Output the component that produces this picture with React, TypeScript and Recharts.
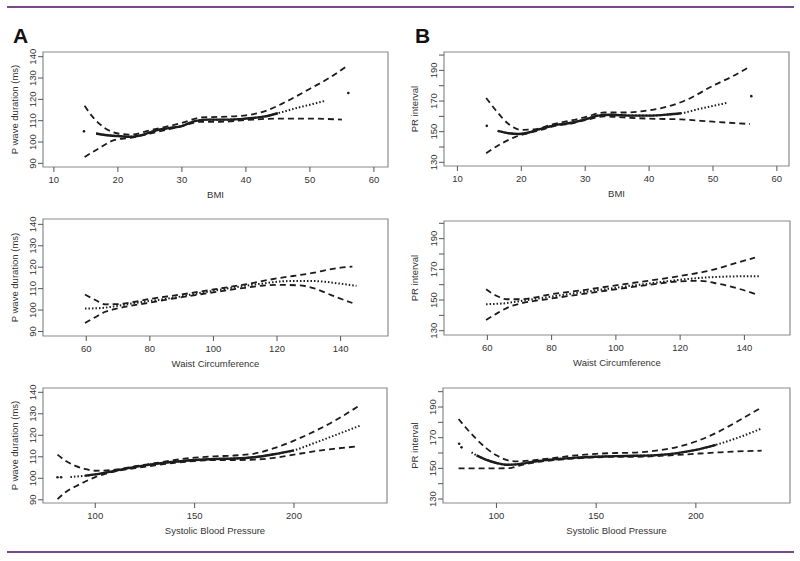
import React from "react";
import { LineChart, Line, XAxis, YAxis, ReferenceArea } from "recharts";

const FONT = "'Liberation Sans', Arial, Helvetica, sans-serif";
const INK = "#1c1c1c";
const PURPLE = "#7a4a8c";

type Pt = [number, number];

// ---- tick values
const bmiTicks = [10, 20, 30, 40, 50, 60];
const waistTicks = [60, 80, 100, 120, 140];
const sbpTicks = [100, 150, 200];
const pwaveTicks = [90, 100, 110, 120, 130, 140];
const prTicks = [130, 140, 150, 160, 170, 180, 190, 200];
const prLabels = [130, 150, 170, 190];

// ---- A: P wave duration vs BMI
const a1Upper: Pt[] = [[14.8, 117], [16, 112], [18, 106.5], [20, 104], [22, 103.5], [25, 105.5], [28, 107.5], [30, 109], [33, 111.5], [36, 111.8], [40, 112.5], [43, 114.5], [46, 118.5], [50, 125], [53, 130], [55.7, 135.5]];
const a1Lower: Pt[] = [[14.8, 93], [17, 97], [19.5, 101], [22, 102], [25, 104], [28, 106], [30, 107.5], [33, 109.5], [36, 109.5], [40, 110.3], [45, 111], [50, 111], [55, 110.5]];
const a1Fit: Pt[] = [[16.6, 104], [18, 103.3], [20, 102.8], [22, 102.5], [24, 103.5], [26, 105.5], [28, 106.5], [30, 107.5], [32, 109.8], [34, 110.5], [37, 110.5], [40, 111], [43, 112], [45, 113.5], [48, 116], [50, 117.5], [52.5, 119.4]];
const a1Dots: Pt[] = [[14.7, 105], [56, 123]];

// ---- B: PR interval vs BMI
const b1Upper: Pt[] = [[14.5, 172], [16, 164], [18, 155], [20, 151.2], [22, 151.5], [25, 155], [28, 157.5], [30, 159.5], [33, 162.5], [36, 162.5], [40, 164], [43, 166.5], [46, 171], [50, 180], [53, 186], [55.8, 192.5]];
const b1Lower: Pt[] = [[14.5, 136], [17, 142.5], [19, 146.5], [21, 149], [23, 151], [25, 153.5], [28, 155.5], [30, 157.5], [33, 160], [36, 159.3], [40, 158.5], [45, 158], [50, 156.5], [55.8, 155]];
const b1Fit: Pt[] = [[16.3, 150.5], [18, 149], [19.5, 148.5], [21, 149.3], [23, 151.8], [25, 154], [28, 156], [30, 158], [32, 160.5], [34, 161], [37, 160.5], [40, 160.5], [43, 161.2], [45, 162], [48, 165], [50, 166.8], [52.4, 169]];
const b1Dots: Pt[] = [[14.6, 153.8], [56, 173.2]];

// ---- A: P wave duration vs waist
const a2Upper: Pt[] = [[59.6, 107.3], [63, 104.6], [66, 102.7], [70, 102.8], [80, 105.2], [90, 107.3], [100, 109.6], [110, 112], [120, 114.8], [130, 117], [140, 119.8], [143.7, 120.3]];
const a2Lower: Pt[] = [[59.6, 94], [63, 96.8], [66, 99.2], [70, 100.8], [80, 103.5], [90, 106], [100, 108.3], [110, 110.4], [120, 111.8], [127, 111.5], [132, 110], [137, 107], [143.7, 103.3]];
const a2Fit: Pt[] = [[59.6, 100.7], [65, 101], [70, 102], [75, 103.2], [80, 104.3], [85, 105.2], [90, 106.4], [95, 107.8], [100, 109], [105, 110.2], [110, 111.3], [115, 112.3], [120, 113.2], [125, 113.6], [130, 113.6], [135, 113.2], [140, 112.3], [145, 111.3]];

// ---- B: PR interval vs waist
const b2Upper: Pt[] = [[59.6, 157], [63, 152.6], [66, 150.5], [70, 150.5], [80, 153.8], [90, 156.5], [100, 159.6], [110, 162.5], [120, 165.7], [130, 169.6], [138, 174.5], [143.3, 177.6]];
const b2Lower: Pt[] = [[59.6, 137], [63, 141.3], [67, 145.7], [70, 147.5], [80, 151], [90, 154], [100, 157], [110, 159.8], [120, 162.2], [126, 162.5], [132, 160.5], [138, 157.5], [143.3, 154]];
const b2Fit: Pt[] = [[59.6, 147.3], [65, 147.8], [70, 149.2], [75, 150.8], [80, 152.3], [85, 153.8], [90, 155.2], [95, 156.6], [100, 158], [105, 159.4], [110, 160.7], [115, 162], [120, 163.2], [125, 164.2], [130, 164.9], [135, 165.3], [140, 165.5], [144.5, 165.5]];

// ---- A: P wave duration vs SBP
const a3Upper: Pt[] = [[81, 111], [85, 108.2], [90, 105.8], [95, 104.3], [100, 103.5], [110, 104], [120, 105.6], [130, 107], [140, 108.5], [150, 109.6], [160, 110.2], [170, 110.6], [180, 111.5], [190, 114], [200, 117.5], [210, 121.7], [220, 126.5], [232, 133.3]];
const a3Lower: Pt[] = [[81, 90.3], [85, 93.5], [90, 96.2], [95, 98.5], [100, 100.5], [105, 102], [110, 103.2], [120, 104.7], [130, 106], [140, 107.2], [150, 108], [160, 108.5], [170, 108.5], [180, 108.7], [190, 109.5], [200, 111], [210, 112.5], [220, 113.7], [232, 114.8]];
const a3Fit: Pt[] = [[87.5, 100.6], [95, 101.2], [100, 101.8], [110, 103.5], [120, 105.3], [130, 106.7], [140, 107.7], [150, 108.5], [160, 109], [170, 109.2], [180, 109.8], [190, 111.2], [200, 113], [210, 116.3], [220, 119.8], [233, 124.4]];
const a3Dots: Pt[] = [[81, 100.5], [82.8, 100.5]];

// ---- B: PR interval vs SBP
const b3Upper: Pt[] = [[81, 182.2], [85, 176], [90, 169], [95, 163], [100, 158.5], [105, 155.5], [110, 154.5], [120, 155.5], [130, 157], [140, 158.5], [150, 159.5], [160, 160], [170, 160.3], [180, 161.5], [190, 163.7], [200, 167.5], [210, 173], [220, 180], [233, 189.8]];
const b3Lower: Pt[] = [[81, 150], [90, 150], [100, 150], [107, 150.2], [112, 152], [120, 154], [130, 155.5], [140, 156.5], [150, 157.2], [160, 157.5], [170, 157.5], [180, 158], [190, 158.7], [200, 159.5], [210, 160.3], [220, 161], [233, 161.5]];
const b3Fit: Pt[] = [[87.5, 160.4], [90, 158.5], [95, 155.5], [100, 153.5], [105, 152.3], [110, 152.6], [120, 154.6], [130, 156], [140, 157], [150, 157.6], [160, 158], [170, 158.2], [180, 158.6], [190, 159.8], [200, 162], [210, 165.3], [220, 169.5], [233, 176]];
const b3Dots: Pt[] = [[81.3, 166], [82.5, 163.7]];

const toRows = (pts: Pt[]) => pts.map(([x, y]) => ({ x, y }));

interface PanelProps {
  box: { left: number; top: number; right: number; bottom: number };
  col: number;
  xDomain: [number, number];
  yDomain: [number, number];
  xTicks: number[];
  yTicks: number[];
  yLabels: number[];
  upper: Pt[];
  lower: Pt[];
  fit: Pt[];
  dense?: [number, number];
  dots?: Pt[];
}

function YTick(props: any) {
  const { x, y, payload, labels } = props;
  if (!labels.includes(payload.value)) return null;
  return (
    <text
      x={x}
      y={y}
      transform={`rotate(-90 ${x} ${y})`}
      textAnchor="middle"
      dy="0.35em"
      fontSize={9.5}
      fontFamily={FONT}
      fill="#333"
    >
      {payload.value}
    </text>
  );
}

function Panel({ box, col, xDomain, yDomain, xTicks, yTicks, yLabels, upper, lower, fit, dense, dots }: PanelProps) {
  const top = 10;
  const xAxisH = 30;
  const boxW = box.right - box.left;
  const boxH = box.bottom - box.top;
  const width = 400;
  const height = top + boxH + xAxisH;
  const fitSolid = dense ? fit.filter(([x]) => x >= dense[0] && x <= dense[1]) : [];

  return (
    <div style={{ position: "absolute", left: col, top: box.top - top }}>
      <LineChart
        width={width}
        height={height}
        margin={{ top, right: width - (box.right - col), bottom: 0, left: 0 }}
      >
        <XAxis
          type="number"
          dataKey="x"
          domain={xDomain}
          allowDataOverflow
          ticks={xTicks}
          interval={0}
          height={xAxisH}
          axisLine={false}
          tickSize={5}
          tickMargin={4}
          tickLine={{ stroke: "#555" }}
          tick={{ fontSize: 9.5, fill: "#333", fontFamily: FONT }}
        />
        <YAxis
          type="number"
          domain={yDomain}
          allowDataOverflow
          ticks={yTicks}
          interval={0}
          width={box.left - col}
          axisLine={false}
          tickSize={5}
          tickMargin={5}
          tickLine={{ stroke: "#555" }}
          tick={(p: any) => <YTick {...p} labels={yLabels} />}
        />
        <ReferenceArea
          x1={xDomain[0]}
          x2={xDomain[1]}
          y1={yDomain[0]}
          y2={yDomain[1]}
          fill="none"
          stroke="#8a8a8a"
          strokeWidth={1.2}
        />
        <Line data={toRows(upper)} dataKey="y" type="monotone" stroke={INK} strokeWidth={1.8} strokeDasharray="6 4" dot={false} isAnimationActive={false} />
        <Line data={toRows(lower)} dataKey="y" type="monotone" stroke={INK} strokeWidth={1.8} strokeDasharray="6 4" dot={false} isAnimationActive={false} />
        <Line data={toRows(fit)} dataKey="y" type="monotone" stroke={INK} strokeWidth={2} strokeDasharray="1.5 2" dot={false} isAnimationActive={false} />
        {fitSolid.length > 0 && (
          <Line data={toRows(fitSolid)} dataKey="y" type="monotone" stroke={INK} strokeWidth={2.4} dot={false} isAnimationActive={false} />
        )}
        {dots && (
          <Line data={toRows(dots)} dataKey="y" stroke="none" dot={{ r: 1.3, fill: INK, stroke: "none" }} isAnimationActive={false} />
        )}
      </LineChart>
    </div>
  );
}

const boxes = {
  a1: { left: 43, top: 52, right: 388, bottom: 167 },
  b1: { left: 444, top: 52, right: 789, bottom: 166 },
  a2: { left: 43, top: 219, right: 388, bottom: 336 },
  b2: { left: 444, top: 221, right: 790, bottom: 335 },
  a3: { left: 43, top: 388, right: 387, bottom: 503 },
  b3: { left: 443, top: 388, right: 790, bottom: 503 },
};

const textStyle = { fontFamily: FONT, fontSize: 9.5, fill: "#333" } as const;

function XTitle({ box, text }: { box: { left: number; right: number; bottom: number }; text: string }) {
  return (
    <text x={(box.left + box.right) / 2} y={box.bottom + 28} textAnchor="middle" dy="0.35em" {...textStyle}>
      {text}
    </text>
  );
}

function YTitle({ x, box, text }: { x: number; box: { top: number; bottom: number }; text: string }) {
  const y = (box.top + box.bottom) / 2;
  return (
    <text x={x} y={y} transform={`rotate(-90 ${x} ${y})`} textAnchor="middle" dy="0.35em" {...textStyle}>
      {text}
    </text>
  );
}

export default function App() {
  return (
    <div style={{ position: "absolute", left: 0, top: 0, width: 800, height: 561, background: "#fff", overflow: "hidden" }}>
      <Panel box={boxes.a1} col={0} xDomain={[8.3, 62.2]} yDomain={[88.3, 142.2]} xTicks={bmiTicks} yTicks={pwaveTicks} yLabels={pwaveTicks} upper={a1Upper} lower={a1Lower} fit={a1Fit} dense={[16.6, 46]} dots={a1Dots} />
      <Panel box={boxes.b1} col={400} xDomain={[7.9, 61.9]} yDomain={[127.6, 202]} xTicks={bmiTicks} yTicks={prTicks} yLabels={prLabels} upper={b1Upper} lower={b1Lower} fit={b1Fit} dense={[16.3, 46]} dots={b1Dots} />
      <Panel box={boxes.a2} col={0} xDomain={[46.4, 154.9]} yDomain={[87.9, 142.5]} xTicks={waistTicks} yTicks={pwaveTicks} yLabels={pwaveTicks} upper={a2Upper} lower={a2Lower} fit={a2Fit} />
      <Panel box={boxes.b2} col={400} xDomain={[46.5, 154.2]} yDomain={[127.2, 201.5]} xTicks={waistTicks} yTicks={prTicks} yLabels={prLabels} upper={b2Upper} lower={b2Lower} fit={b2Fit} />
      <Panel box={boxes.a3} col={0} xDomain={[73.7, 246.8]} yDomain={[88.5, 142]} xTicks={sbpTicks} yTicks={pwaveTicks} yLabels={pwaveTicks} upper={a3Upper} lower={a3Lower} fit={a3Fit} dense={[92, 205]} dots={a3Dots} />
      <Panel box={boxes.b3} col={400} xDomain={[73.2, 247.2]} yDomain={[127.4, 202.4]} xTicks={sbpTicks} yTicks={prTicks} yLabels={prLabels} upper={b3Upper} lower={b3Lower} fit={b3Fit} dense={[88, 212]} dots={b3Dots} />

      <svg width={800} height={561} style={{ position: "absolute", left: 0, top: 0, pointerEvents: "none" }}>
        <line x1={7} x2={794} y1={7} y2={7} stroke={PURPLE} strokeWidth={2} />
        <line x1={7} x2={794} y1={552} y2={552} stroke={PURPLE} strokeWidth={2} />
        <text x={13} y={43} fontFamily={FONT} fontWeight="bold" fontSize={21} fill="#111">A</text>
        <text x={415} y={43} fontFamily={FONT} fontWeight="bold" fontSize={21} fill="#111">B</text>

        <XTitle box={boxes.a1} text="BMI" />
        <XTitle box={boxes.b1} text="BMI" />
        <XTitle box={boxes.a2} text="Waist Circumference" />
        <XTitle box={boxes.b2} text="Waist Circumference" />
        <XTitle box={boxes.a3} text="Systolic Blood Pressure" />
        <XTitle box={boxes.b3} text="Systolic Blood Pressure" />

        <YTitle x={15} box={boxes.a1} text="P wave duration (ms)" />
        <YTitle x={15} box={boxes.a2} text="P wave duration (ms)" />
        <YTitle x={15} box={boxes.a3} text="P wave duration (ms)" />
        <YTitle x={415} box={boxes.b1} text="PR interval" />
        <YTitle x={415} box={boxes.b2} text="PR interval" />
        <YTitle x={415} box={boxes.b3} text="PR interval" />
      </svg>
    </div>
  );
}
